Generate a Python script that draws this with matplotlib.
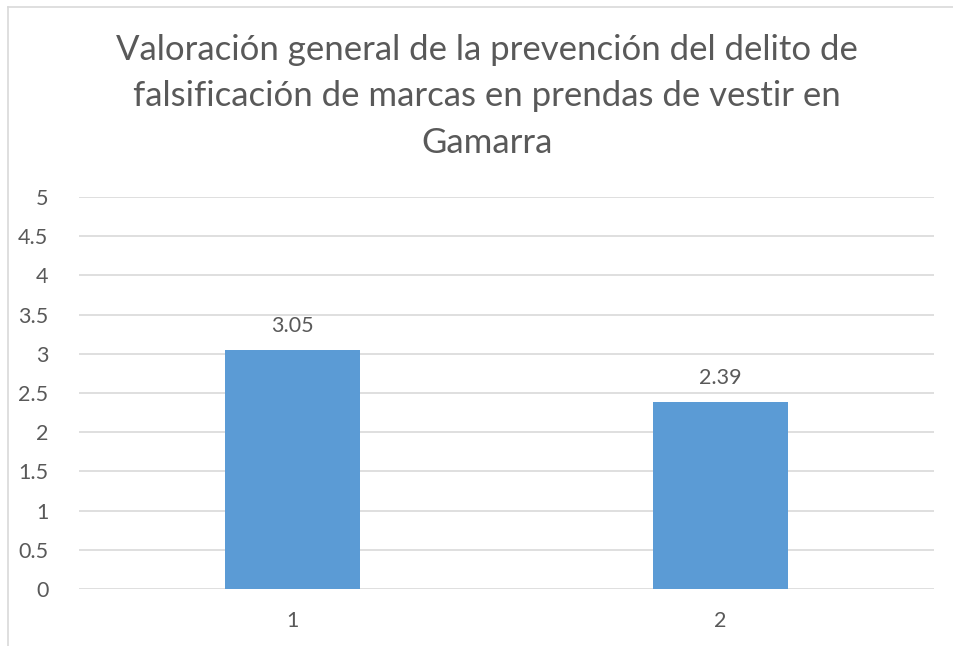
import matplotlib
matplotlib.use("Agg")
import matplotlib.pyplot as plt
from matplotlib.lines import Line2D

categories = ["1", "2"]
values = [3.05, 2.39]
value_labels = ["3.05", "2.39"]
yticks = [0, 0.5, 1, 1.5, 2, 2.5, 3, 3.5, 4, 4.5, 5]
ytick_labels = ["0", "0.5", "1", "1.5", "2", "2.5", "3", "3.5", "4", "4.5", "5"]
title_lines = ["Valoración general de la prevención del delito de",
               "falsificación de marcas en prendas de vestir en",
               "Gamarra"]

plt.rcParams['font.family'] = ['Lato', 'DejaVu Sans']
W, H = 954, 646
fig = plt.figure(figsize=(W/100, H/100), dpi=100)
ax = fig.add_axes([79/W, 1-589/H, (934-79)/W, (589-197)/H])

txt = "#595959"
x = list(range(1, len(categories)+1))
ax.bar(x, values, width=0.316, color="#5B9BD5", zorder=3)
ax.set_xlim(0.5, len(categories)+0.5)
ax.set_ylim(0, 5)
ax.set_yticks(yticks)
ax.set_yticklabels(ytick_labels)
ax.set_xticks(x)
ax.set_xticklabels(categories)
ax.grid(axis='y', color="#d9d9d9", linewidth=1.2, zorder=0)
for s in ax.spines.values():
    s.set_visible(False)
ax.tick_params(axis='both', length=0, labelsize=15.5, colors=txt)
ax.tick_params(axis='y', pad=22)
ax.tick_params(axis='x', pad=16)
for xi, v, lab in zip(x, values, value_labels):
    ax.annotate(lab, (xi, v), xytext=(0, 17), textcoords='offset points',
                ha='center', va='center', fontsize=15.5, color=txt)

for i, line in enumerate(title_lines):
    fig.text(487/W, 1-(50+46.5*i)/H, line, ha='center', va='center',
             fontsize=25, color=txt)

fig.add_artist(Line2D([8.5/W, 8.5/W], [0, 1-6.5/H], color="#d9d9d9", lw=1.2, transform=fig.transFigure))
fig.add_artist(Line2D([8.5/W, 1], [1-6.5/H, 1-6.5/H], color="#d9d9d9", lw=1.2, transform=fig.transFigure))

fig.savefig("out.png", dpi=100)
